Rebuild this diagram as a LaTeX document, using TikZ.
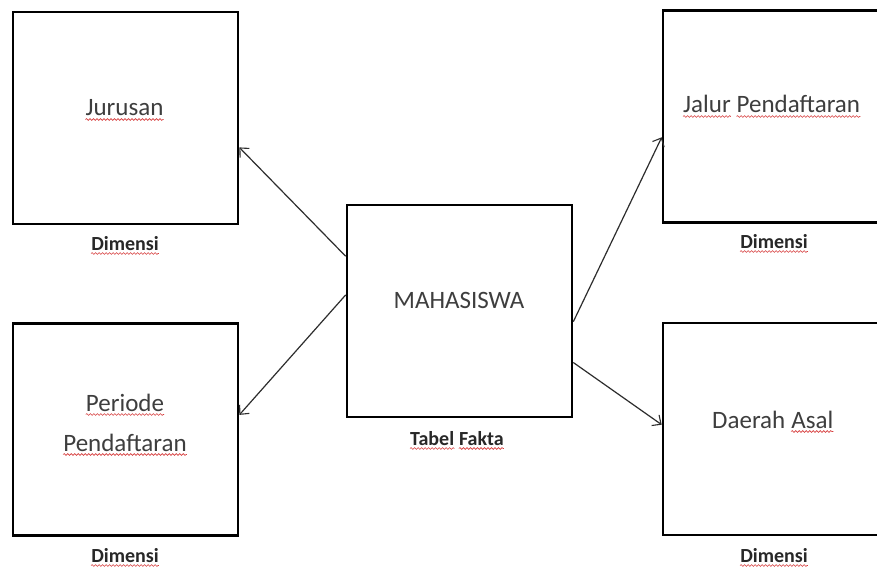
\documentclass[tikz,border=0pt]{standalone}
\usepackage{fontspec}
\setmainfont{Carlito}
\usetikzlibrary{arrows.meta,calc,decorations.pathmorphing}
\definecolor{textc}{RGB}{62,62,62}
\definecolor{dimc}{RGB}{40,40,40}
\definecolor{wavec}{RGB}{215,60,60}
\definecolor{linec}{RGB}{45,45,45}
\tikzset{
  boxnode/.style={draw=black, line width=2.6pt, minimum width=225pt, minimum height=212pt, inner sep=0pt},
  lbl/.style={anchor=base, inner sep=0pt, text=textc, font=\fontsize{25}{30}\selectfont},
  dimlbl/.style={anchor=base, inner sep=0pt, text=dimc, font=\fontsize{20}{24}\selectfont\bfseries},
  arr/.style={draw=linec, line width=1.2pt, -{Straight Barb[length=7pt,width=13pt,line width=1.1pt]}},
  wavy/.style={draw=wavec, line width=0.6pt, decorate, decoration={snake, amplitude=0.9pt, segment length=3.5pt}}
}
\newcommand\wav[1]{\draw[wavy] ([yshift=-3.5pt]#1.base west) -- ([yshift=-3.5pt]#1.base east);}
\begin{document}
\begin{tikzpicture}[x=1pt,y=-1pt]
\useasboundingbox (0,0) rectangle (877,567);
\clip (0,0) rectangle (877,567);
\fill[white] (0,0) rectangle (877,567);
% boxes
\node[boxnode] (jur) at (125.5,118) {};
\node[boxnode] (per) at (125.5,429.5) {};
\node[boxnode] (mhs) at (459.5,311) {};
\node[boxnode] (jal) at (775.5,116.5) {};
\node[boxnode] (dae) at (775.5,429) {};
% labels
\node[lbl] (tjur) at (124.5,116) {Jurusan};
\node[lbl] (tper1) at (125,411) {Periode};
\node[lbl] (tper2) at (125,451) {Pendaftaran};
\node[lbl] (tmhs) at (459,308) {MAHASISWA};
\node[lbl, anchor=base west] (tjal1) at (683,113) {Jalur};
\node[lbl, anchor=base west] (tjal2) at ([xshift=5.6pt]tjal1.base east) {Pendaftaran};
\node[lbl, anchor=base west] (tdae1) at (712,428) {Daerah};
\node[lbl, anchor=base west] (tdae2) at ([xshift=5.6pt]tdae1.base east) {Asal};
\node[dimlbl] (d1) at (125,250) {Dimensi};
\node[dimlbl] (d2) at (125,562) {Dimensi};
\node[dimlbl] (d3) at (774,248) {Dimensi};
\node[dimlbl] (d4) at (774,562) {Dimensi};
\node[dimlbl, anchor=base west] (tf1) at (410,445) {Tabel};
\node[dimlbl, anchor=base west] (tf2) at ([xshift=4.5pt]tf1.base east) {Fakta};
% spell-check underlines
\wav{tjur}\wav{tper1}\wav{tper2}\wav{tjal1}\wav{tjal2}\wav{tdae2}
\wav{d1}\wav{d2}\wav{d3}\wav{d4}\wav{tf1}\wav{tf2}
% connectors
\draw[arr] ($(mhs.north west)!0.245!(mhs.south west)$) -- ($(jur.north east)!0.637!(jur.south east)$);
\draw[arr] ($(mhs.north west)!0.425!(mhs.south west)$) -- ($(per.north east)!0.432!(per.south east)$);
\draw[arr] ($(mhs.north east)!0.55!(mhs.south east)$) -- ($(jal.north west)!0.597!(jal.south west)$);
\draw[arr] ($(mhs.north east)!0.74!(mhs.south east)$) -- ($(dae.north west)!0.48!(dae.south west)$);
\end{tikzpicture}
\end{document}
